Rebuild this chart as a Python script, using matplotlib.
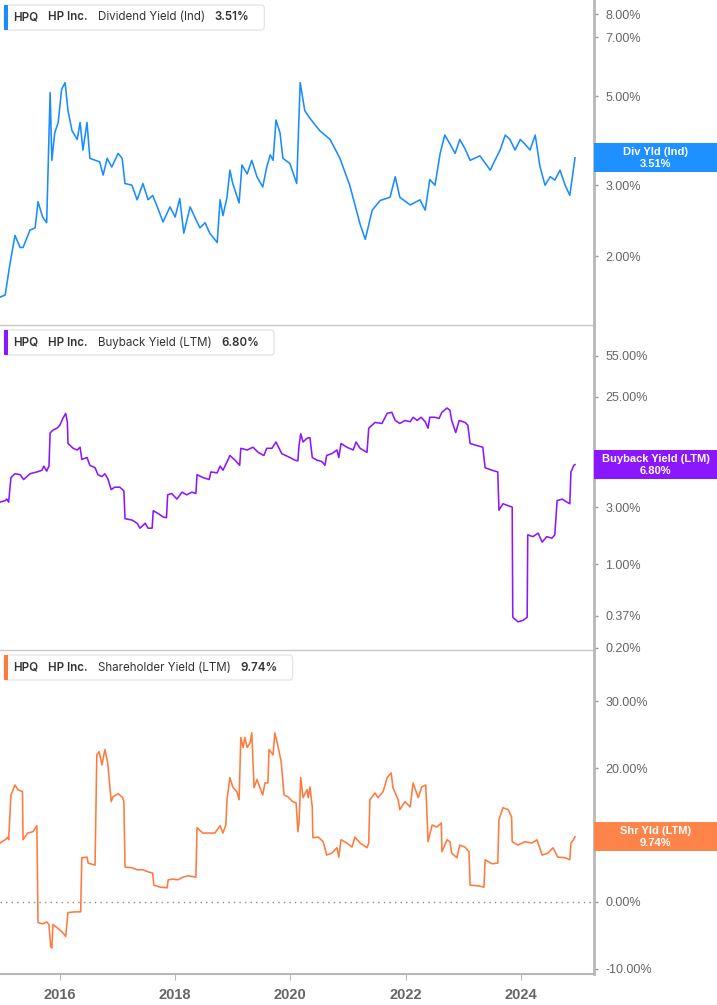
import matplotlib
matplotlib.use("Agg")
import matplotlib.pyplot as plt
from matplotlib.patches import FancyBboxPatch, Rectangle
from matplotlib.ticker import FixedLocator, FuncFormatter, NullLocator

plt.rcParams['font.family'] = ['Inter', 'DejaVu Sans']

# --- data: (decimal year, percent) ---
div_t = [2014.96, 2015.05, 2015.13, 2015.22, 2015.31, 2015.36, 2015.48, 2015.57, 2015.62, 2015.70,
         2015.77, 2015.83, 2015.86, 2015.91, 2015.97, 2016.03, 2016.09, 2016.14, 2016.21, 2016.30,
         2016.35, 2016.40, 2016.47, 2016.52, 2016.69, 2016.75, 2016.82, 2016.90, 2017.01, 2017.08,
         2017.13, 2017.25, 2017.34, 2017.44, 2017.53, 2017.61, 2017.70, 2017.79, 2017.91, 2018.00,
         2018.08, 2018.15, 2018.26, 2018.34, 2018.43, 2018.52, 2018.60, 2018.73, 2018.78, 2018.83,
         2018.90, 2018.95, 2019.00, 2019.11, 2019.16, 2019.25, 2019.33, 2019.42, 2019.52, 2019.59,
         2019.65, 2019.70, 2019.75, 2019.82, 2019.87, 2019.99, 2020.11, 2020.17, 2020.25, 2020.34,
         2020.51, 2020.69, 2020.86, 2021.03, 2021.21, 2021.30, 2021.42, 2021.56, 2021.73, 2021.82,
         2021.90, 2022.08, 2022.25, 2022.34, 2022.42, 2022.51, 2022.60, 2022.68, 2022.77, 2022.86,
         2022.94, 2023.03, 2023.12, 2023.29, 2023.47, 2023.55, 2023.64, 2023.73, 2023.81, 2023.90,
         2023.99, 2024.07, 2024.16, 2024.25, 2024.33, 2024.42, 2024.51, 2024.59, 2024.68, 2024.77,
         2024.85, 2024.94]
div_v = [1.58, 1.60, 1.90, 2.25, 2.10, 2.10, 2.32, 2.35, 2.73, 2.50,
         2.42, 5.10, 3.46, 4.05, 4.30, 5.20, 5.40, 4.60, 4.10, 3.90,
         4.30, 3.67, 4.30, 3.50, 3.43, 3.18, 3.50, 3.33, 3.60, 3.50,
         3.03, 3.00, 2.76, 3.03, 2.76, 2.83, 2.63, 2.43, 2.65, 2.50,
         2.78, 2.28, 2.65, 2.50, 2.35, 2.42, 2.28, 2.16, 2.76, 2.52,
         2.80, 3.27, 3.03, 2.71, 3.37, 3.20, 3.46, 3.15, 2.97, 3.33,
         3.57, 3.46, 4.36, 4.05, 3.50, 3.40, 3.03, 5.40, 4.60, 4.40,
         4.10, 3.90, 3.50, 3.00, 2.40, 2.20, 2.60, 2.75, 2.80, 3.15,
         2.80, 2.68, 2.76, 2.60, 3.10, 3.00, 3.60, 4.00, 3.80, 3.60,
         3.90, 3.70, 3.46, 3.55, 3.27, 3.46, 3.67, 4.00, 3.90, 3.67,
         3.90, 3.80, 3.67, 4.00, 3.35, 3.00, 3.15, 3.09, 3.27, 3.00,
         2.83, 3.51]

bb_t = [2014.96, 2015.05, 2015.08, 2015.11, 2015.15, 2015.22, 2015.31, 2015.37, 2015.48, 2015.60,
        2015.69, 2015.72, 2015.77, 2015.81, 2015.83, 2015.88, 2015.95, 2016.00, 2016.05, 2016.10,
        2016.13, 2016.14, 2016.23, 2016.30, 2016.35, 2016.38, 2016.47, 2016.52, 2016.61, 2016.66,
        2016.73, 2016.78, 2016.83, 2016.89, 2016.95, 2017.04, 2017.11, 2017.13, 2017.25, 2017.34,
        2017.39, 2017.48, 2017.53, 2017.60, 2017.62, 2017.70, 2017.79, 2017.85, 2017.87, 2017.94,
        2018.03, 2018.12, 2018.20, 2018.29, 2018.36, 2018.38, 2018.48, 2018.59, 2018.62, 2018.73,
        2018.78, 2018.83, 2018.92, 2018.95, 2019.04, 2019.12, 2019.14, 2019.25, 2019.35, 2019.44,
        2019.54, 2019.59, 2019.68, 2019.75, 2019.85, 2019.99, 2020.08, 2020.13, 2020.15, 2020.18,
        2020.22, 2020.29, 2020.34, 2020.38, 2020.46, 2020.55, 2020.60, 2020.63, 2020.72, 2020.81,
        2020.84, 2020.88, 2020.98, 2021.09, 2021.14, 2021.21, 2021.33, 2021.36, 2021.47, 2021.59,
        2021.68, 2021.76, 2021.82, 2021.90, 2021.99, 2022.08, 2022.13, 2022.20, 2022.27, 2022.34,
        2022.39, 2022.42, 2022.51, 2022.58, 2022.63, 2022.72, 2022.77, 2022.80, 2022.87, 2022.93,
        2023.03, 2023.08, 2023.12, 2023.24, 2023.34, 2023.38, 2023.50, 2023.60, 2023.62, 2023.69,
        2023.85, 2023.86, 2023.95, 2024.04, 2024.11, 2024.12, 2024.21, 2024.30, 2024.37, 2024.45,
        2024.54, 2024.59, 2024.63, 2024.72, 2024.80, 2024.85, 2024.87, 2024.92, 2024.94]
bb_v = [3.3, 3.4, 3.5, 3.3, 5.3, 5.7, 5.6, 5.1, 5.7, 5.9,
        6.1, 6.6, 6.0, 6.6, 12.5, 13.2, 13.7, 14.5, 16.5, 18.2,
        15.3, 10.2, 9.3, 9.0, 9.5, 7.5, 7.8, 6.7, 6.4, 5.6,
        5.4, 5.7, 5.2, 4.2, 4.4, 4.4, 4.1, 2.4, 2.34, 2.2,
        2.0, 2.2, 2.0, 2.0, 2.8, 2.66, 2.48, 2.45, 3.8, 3.9,
        3.5, 4.0, 3.8, 4.0, 3.9, 5.6, 5.3, 5.1, 5.9, 5.8,
        6.6, 6.1, 7.5, 8.1, 7.4, 6.7, 9.3, 9.0, 9.5, 8.6,
        8.1, 9.3, 9.3, 10.5, 8.4, 7.8, 7.4, 7.3, 9.8, 12.3,
        10.5, 11.3, 11.4, 7.8, 7.4, 7.2, 6.7, 8.1, 8.4, 9.0,
        7.8, 10.2, 9.5, 9.0, 10.5, 9.3, 8.6, 13.7, 15.3, 15.0,
        18.2, 18.6, 15.9, 15.0, 15.9, 15.5, 16.9, 15.9, 16.9, 15.5,
        13.7, 16.9, 16.9, 16.5, 18.6, 20.2, 19.3, 15.9, 12.6, 15.9,
        15.3, 14.5, 10.2, 9.8, 9.5, 6.4, 6.1, 5.9, 2.83, 3.2,
        3.0, 0.36, 0.33, 0.34, 0.36, 1.76, 1.70, 1.82, 1.53, 1.70,
        1.65, 1.76, 3.4, 3.5, 3.3, 3.2, 5.9, 6.7, 6.8]

sh_t = [2014.96, 2015.05, 2015.10, 2015.11, 2015.15, 2015.22, 2015.27, 2015.35, 2015.36, 2015.44,
        2015.53, 2015.60, 2015.62, 2015.70, 2015.77, 2015.81, 2015.84, 2015.86, 2015.88, 2015.97,
        2016.05, 2016.10, 2016.14, 2016.26, 2016.36, 2016.38, 2016.47, 2016.49, 2016.61, 2016.64,
        2016.68, 2016.73, 2016.78, 2016.83, 2016.89, 2016.92, 2017.01, 2017.09, 2017.11, 2017.13,
        2017.25, 2017.34, 2017.44, 2017.53, 2017.61, 2017.63, 2017.74, 2017.86, 2017.88, 2017.96,
        2018.05, 2018.14, 2018.22, 2018.36, 2018.38, 2018.48, 2018.60, 2018.69, 2018.78, 2018.83,
        2018.88, 2018.90, 2018.95, 2019.00, 2019.07, 2019.11, 2019.14, 2019.18, 2019.21, 2019.25,
        2019.30, 2019.33, 2019.37, 2019.42, 2019.52, 2019.56, 2019.61, 2019.63, 2019.70, 2019.73,
        2019.78, 2019.84, 2019.89, 2019.96, 2020.04, 2020.10, 2020.13, 2020.15, 2020.18, 2020.22,
        2020.29, 2020.31, 2020.34, 2020.38, 2020.39, 2020.48, 2020.57, 2020.63, 2020.72, 2020.81,
        2020.84, 2020.88, 2020.98, 2021.07, 2021.12, 2021.21, 2021.33, 2021.36, 2021.38, 2021.47,
        2021.52, 2021.61, 2021.68, 2021.75, 2021.78, 2021.87, 2021.90, 2021.99, 2022.08, 2022.13,
        2022.22, 2022.28, 2022.35, 2022.39, 2022.46, 2022.54, 2022.62, 2022.63, 2022.72, 2022.77,
        2022.80, 2022.89, 2022.94, 2023.03, 2023.10, 2023.12, 2023.26, 2023.36, 2023.38, 2023.50,
        2023.60, 2023.62, 2023.69, 2023.78, 2023.84, 2023.85, 2023.95, 2024.07, 2024.19, 2024.28,
        2024.37, 2024.47, 2024.56, 2024.64, 2024.77, 2024.85, 2024.87, 2024.92, 2024.94]
sh_v = [8.8, 9.3, 9.7, 9.3, 16.0, 17.5, 16.8, 16.5, 9.3, 10.3,
        10.5, 11.4, -3.1, -3.3, -3.0, -3.4, -6.7, -6.9, -3.4, -4.0,
        -4.6, -5.2, -1.6, -1.5, -1.5, 6.6, 6.7, 5.8, 5.5, 22.0,
        22.5, 20.5, 22.8, 20.8, 15.0, 15.7, 16.2, 15.6, 15.0, 5.2,
        5.1, 4.8, 4.8, 4.5, 4.3, 2.5, 2.2, 2.1, 3.3, 3.4,
        3.3, 3.7, 3.9, 3.7, 11.1, 10.3, 10.3, 10.3, 11.4, 10.3,
        11.5, 15.3, 18.6, 17.2, 16.5, 15.3, 24.6, 23.1, 24.6, 23.1,
        23.8, 25.3, 17.1, 18.3, 16.0, 17.8, 17.8, 22.8, 22.0, 25.3,
        23.5, 21.0, 16.0, 15.7, 15.0, 14.8, 10.5, 11.8, 18.6, 15.6,
        16.8, 15.6, 17.2, 14.2, 9.6, 9.7, 9.0, 7.0, 7.3, 8.1,
        6.7, 9.3, 8.8, 8.2, 9.7, 8.8, 8.1, 8.8, 15.3, 16.3,
        15.6, 16.5, 18.6, 19.3, 17.1, 15.3, 13.8, 15.0, 14.2, 17.8,
        15.6, 17.2, 17.5, 9.0, 11.5, 11.2, 11.8, 7.5, 9.3, 9.0,
        7.3, 6.6, 8.5, 8.2, 7.5, 2.5, 2.4, 2.2, 6.3, 5.7,
        5.8, 12.3, 14.1, 13.8, 12.7, 9.0, 8.5, 9.0, 8.8, 9.3,
        7.0, 7.3, 8.1, 6.7, 6.6, 6.3, 8.8, 9.4, 9.74]

ticker_sym = "HPQ"
company = "HP Inc."
names = ["Dividend Yield (Ind)", "Buyback Yield (LTM)", "Shareholder Yield (LTM)"]
short_names = ["Div Yld (Ind)", "Buyback Yield (LTM)", "Shr Yld (LTM)"]
last_vals = [3.51, 6.80, 9.74]
yticks = [[2, 3, 5, 7, 8],
          [0.2, 0.37, 1, 3, 8, 25, 55],
          [-10, 0, 10, 20, 30]]
# tick labels that sit under the value boxes
covered = [[], [8], [10]]
year_ticks = [2016, 2018, 2020, 2022, 2024]

line_cols = ["#1a8cff", "#8b17ff", "#ff7a3d"]
box_cols = ["#1e90ff", "#8b17ff", "#ff8449"]

W, H = 717, 1005
fig = plt.figure(figsize=(W / 100, H / 100), dpi=100)

def fx(x):
    return x / W

def fy(y):
    return 1 - y / H

panels = [(0, 325), (325, 650), (650, 974)]
right = 594
axes = []
for (top, bot) in panels:
    ax = fig.add_axes([0, fy(bot), fx(right), (bot - top) / H])
    axes.append(ax)

series = [(div_t, div_v), (bb_t, bb_v), (sh_t, sh_v)]
ylims = [(1.347, 8.67), (0.192, 99.7), (-10.8, 37.7)]

def make_fmt(hide):
    def f(val, p):
        if any(abs(val - h) < 1e-9 for h in hide):
            return ""
        return f"{val:.2f}%"
    return FuncFormatter(f)

for i, ax in enumerate(axes):
    t, v = series[i]
    ax.plot(t, v, color=line_cols[i], lw=1.15, solid_joinstyle='round')
    if i < 2:
        ax.set_yscale('log')
    ax.set_ylim(*ylims[i])
    ax.set_xlim(2014.96, 2025.27)
    ax.yaxis.tick_right()
    ax.yaxis.set_major_locator(FixedLocator(yticks[i]))
    ax.yaxis.set_minor_locator(NullLocator())
    ax.yaxis.set_major_formatter(make_fmt(covered[i]))
    ax.tick_params(axis='y', length=3, width=1, color='#999999', labelcolor='#666666',
                   labelsize=9, pad=5)
    for lab in ax.get_yticklabels():
        lab.set_family(['Liberation Sans', 'DejaVu Sans'])
    for s in ['top', 'left']:
        ax.spines[s].set_visible(False)
    ax.spines['right'].set_color('#b8b8b8')
    ax.spines['right'].set_linewidth(2)
    ax.spines['bottom'].set_color('#c8c8c8')
    ax.spines['bottom'].set_linewidth(1)
    ax.set_facecolor('none')
    if i < 2:
        ax.xaxis.set_major_locator(NullLocator())
        ax.xaxis.set_minor_locator(NullLocator())
    else:
        ax.xaxis.set_major_locator(FixedLocator(year_ticks))
        ax.xaxis.set_minor_locator(NullLocator())
        ax.xaxis.set_major_formatter(FuncFormatter(lambda val, p: f"{int(val)}"))
        ax.tick_params(axis='x', length=4, color='#b8b8b8', labelcolor='#666666',
                       labelsize=10.5, pad=6)
        for lab in ax.get_xticklabels():
            lab.set_family(['Liberation Sans Narrow', 'Liberation Sans', 'DejaVu Sans'])
            lab.set_fontweight('bold')
        ax.spines['bottom'].set_color('#b8b8b8')
        ax.spines['bottom'].set_linewidth(1.5)
        ax.axhline(0, color='#888888', lw=1, ls=(0, (1, 3)), zorder=0)

renderer = fig.canvas.get_renderer()

# legend boxes at top-left of each panel
gap = 10
for i, (top, bot) in enumerate(panels):
    ycen = top + 17.5
    parts = [(ticker_sym, 'semibold'), (company, 'semibold'),
             (names[i], 'normal'), (f"{last_vals[i]:.2f}%", 'semibold')]
    x = 13
    for txt, wt in parts:
        tt = fig.text(fx(x), fy(ycen), txt, fontsize=8.3, fontweight=wt, color='#333333',
                      va='center', ha='left', zorder=5)
        bb = tt.get_window_extent(renderer)
        x += bb.width + gap
    x_end = x - gap + 15
    box = FancyBboxPatch((fx(4), fy(top + 30)), fx(x_end - 4), 25 / H,
                         boxstyle="round,pad=0,rounding_size=0.004",
                         transform=fig.transFigure, facecolor='white',
                         edgecolor='#e6e6e6', lw=1, zorder=3)
    fig.add_artist(box)
    bar = Rectangle((fx(4), fy(top + 30)), fx(3.5), 25 / H, transform=fig.transFigure,
                    facecolor=line_cols[i], edgecolor='none', zorder=4)
    fig.add_artist(bar)

# value boxes on the right axis
for i, ax in enumerate(axes):
    disp = ax.transData.transform((2020, last_vals[i]))
    ypix = H - disp[1]
    rect = Rectangle((fx(right), fy(ypix + 14.5)), fx(W - right), 29 / H,
                     transform=fig.transFigure, facecolor=box_cols[i],
                     edgecolor='none', zorder=6)
    fig.add_artist(rect)
    for dy, txt in [(-6, short_names[i]), (6, f"{last_vals[i]:.2f}%")]:
        fig.text(fx((right + W) / 2), fy(ypix + dy), txt, color='white',
                 fontsize=8, fontweight='bold', family=['Liberation Sans', 'DejaVu Sans'],
                 ha='center', va='center', zorder=7)

fig.savefig("out.png", dpi=100)
